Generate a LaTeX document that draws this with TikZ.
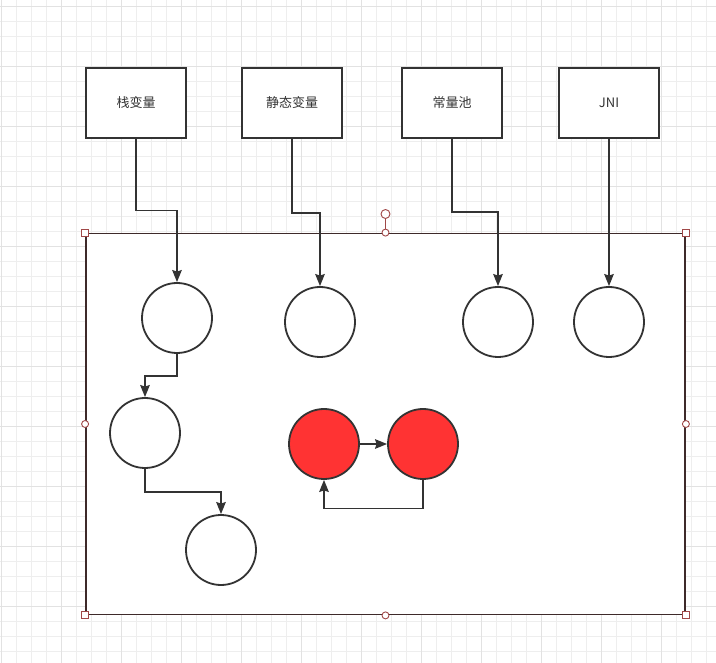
\documentclass[tikz,border=0pt]{standalone}
\usepackage{fontspec}
\setmainfont{Noto Sans CJK SC}
\usetikzlibrary{arrows.meta}
\definecolor{ink}{HTML}{333333}
\definecolor{gridminor}{HTML}{EEEEEE}
\definecolor{gridmajor}{HTML}{E2E2E2}
\definecolor{redfill}{HTML}{FF3333}
\definecolor{selline}{HTML}{3E2A2A}
\definecolor{handle}{HTML}{A04848}
\tikzset{
  topbox/.style={draw=ink, line width=2pt, fill=white, minimum width=100pt, minimum height=70pt, inner sep=0pt, text=ink, font=\fontsize{13}{15}\selectfont},
  objnode/.style={circle, draw=ink, line width=1.8pt, fill=white, minimum size=70pt, inner sep=0pt},
  rednode/.style={objnode, fill=redfill},
  conn/.style={draw=ink, line width=1.8pt, -{Stealth[length=12pt,width=9.5pt,inset=1.5pt]}},
  cornerhandle/.style={draw=handle, fill=white, line width=0.9pt, minimum size=7pt, inner sep=0pt},
  midhandle/.style={circle, draw=handle, fill=white, line width=0.9pt, minimum size=7pt, inner sep=0pt},
}
\begin{document}
\begin{tikzpicture}[x=1pt,y=-1pt]
\useasboundingbox (0,0) rectangle (716,663);
\fill[white] (0,0) rectangle (716,663);
% grid
\foreach \i in {0,...,48} {
  \pgfmathsetmacro{\gx}{1.7+15*\i}
  \draw[gridminor, line width=0.9pt] (\gx,0) -- (\gx,663);
}
\foreach \i in {0,...,44} {
  \pgfmathsetmacro{\gy}{6+15*\i}
  \draw[gridminor, line width=0.9pt] (0,\gy) -- (716,\gy);
}
\foreach \i in {0,...,11} {
  \pgfmathsetmacro{\gx}{1.7+60*\i}
  \draw[gridmajor, line width=0.9pt] (\gx,0) -- (\gx,663);
}
\foreach \i in {0,...,11} {
  \pgfmathsetmacro{\gy}{6+60*\i}
  \draw[gridmajor, line width=0.9pt] (0,\gy) -- (716,\gy);
}
% container (selected)
\node[draw=selline, line width=1.8pt, fill=white, minimum width=599pt, minimum height=381pt, inner sep=0pt] (heap) at (385.5,424) {};
% top boxes
\node[topbox] (b1) at (136,103) {栈变量};
\node[topbox] (b2) at (292,103) {静态变量};
\node[topbox] (b3) at (452,103) {常量池};
\node[topbox] (b4) at (609,103) {JNI};
% objects
\node[objnode] (c1) at (177,318) {};
\node[objnode] (c2) at (320,322) {};
\node[objnode] (c3) at (498,322) {};
\node[objnode] (c4) at (609,322) {};
\node[objnode] (c5) at (145,433) {};
\node[objnode] (c6) at (221,550) {};
\node[rednode] (r1) at (324,444) {};
\node[rednode] (r2) at (423,444) {};
% bends
\coordinate (k1) at (136,210.5);
\coordinate (k2) at (292,213);
\coordinate (k3) at (452,212);
\coordinate (k5) at (177,376);
\coordinate (k6) at (145,492);
\coordinate (k7) at (423,508.5);
% connectors
\draw[conn] (b1.south) -- (k1) -| (c1.north);
\draw[conn] (b2.south) -- (k2) -| (c2.north);
\draw[conn] (b3.south) -- (k3) -| (c3.north);
\draw[conn] (b4.south) -- (c4.north);
\draw[conn] (c1.south) -- (k5) -| (c5.north);
\draw[conn] (c5.south) -- (k6) -| (c6.north);
\draw[conn] (r1.east) -- (r2.west);
\draw[conn] (r2.south) -- (k7) -| (r1.south);
% selection handles
\draw[handle, line width=0.9pt] (heap.north) -- ++(0,-16);
\node[circle, draw=handle, fill=white, line width=0.9pt, minimum size=9pt, inner sep=0pt] (rot) at (385.5,214) {};
\node[cornerhandle] (h1) at (heap.north west) {};
\node[cornerhandle] (h2) at (heap.north east) {};
\node[cornerhandle] (h3) at (heap.south west) {};
\node[cornerhandle] (h4) at (heap.south east) {};
\node[midhandle] (m1) at (heap.north) {};
\node[midhandle] (m2) at (heap.south) {};
\node[midhandle] (m3) at (heap.west) {};
\node[midhandle] (m4) at (heap.east) {};
\end{tikzpicture}
\end{document}
